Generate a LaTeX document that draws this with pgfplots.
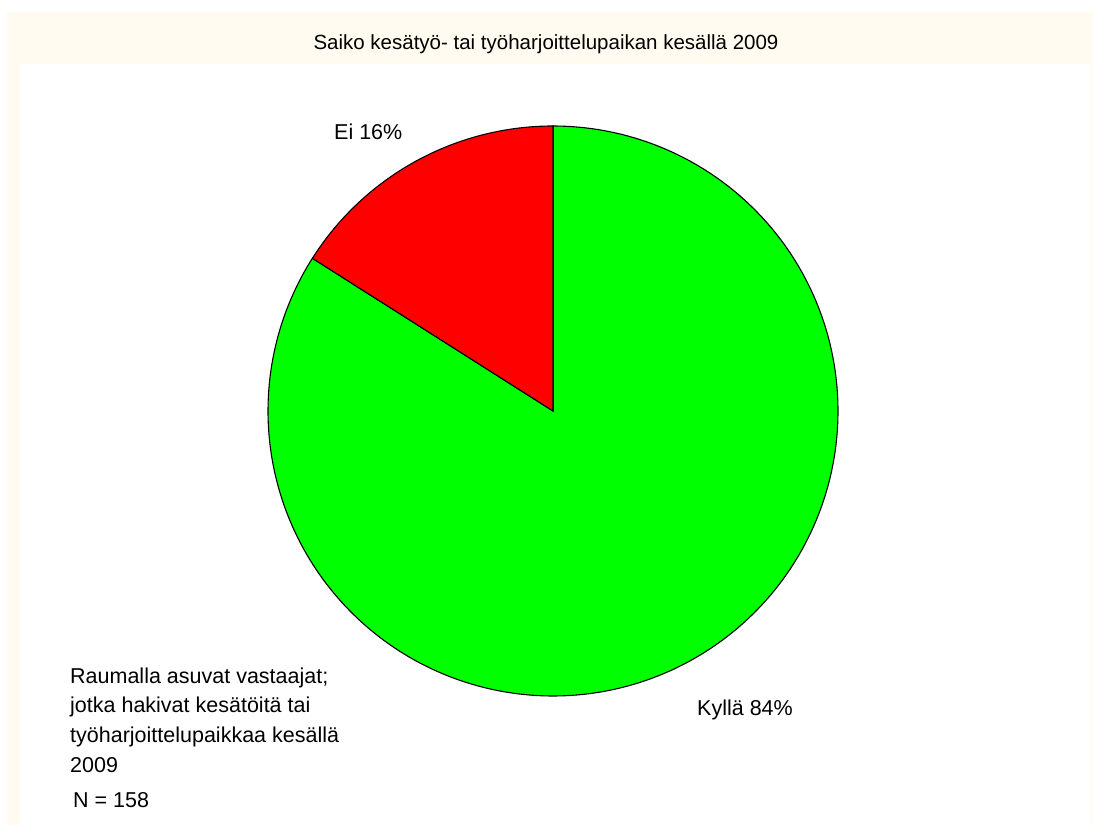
\documentclass[border=0pt]{standalone}
\usepackage{pgfplots}
\pgfplotsset{compat=1.18}
\usepackage{fontspec}
\setmainfont{Liberation Sans}
\definecolor{cream}{RGB}{255,251,240}
\definecolor{pgreen}{RGB}{0,255,0}
\definecolor{pred}{RGB}{255,0,0}
% data (percent)
\def\valEi{16}
\def\valKylla{84}
\begin{document}
\begin{tikzpicture}[x=1pt,y=1pt]
\fill[white] (0,0) rectangle (1093,825);
\fill[cream] (7,0) rectangle (1093,813);
\fill[white] (20,0) rectangle (1091,761);
\pgfmathsetmacro\aStart{90}
\pgfmathsetmacro\aMid{90+3.6*\valEi}
\pgfmathsetmacro\aEnd{\aMid+3.6*\valKylla}
\begin{axis}[x=1pt,y=1pt,xmin=0,xmax=1093,ymin=0,ymax=825,hide axis,clip=false,scale only axis,at={(0,0)},anchor=south west]
\addplot[fill=pgreen,draw=black,line width=1.1pt,domain=\aMid:\aEnd,samples=200,smooth]
  ({553+285*cos(x)},{414+285*sin(x)}) -- (553,414) -- cycle;
\addplot[fill=pred,draw=black,line width=1.1pt,domain=\aStart:\aMid,samples=60,smooth]
  ({553+285*cos(x)},{414+285*sin(x)}) -- (553,414) -- cycle;
\end{axis}
\tikzset{lbl/.style={font=\fontsize{21.5}{25}\selectfont,anchor=base west,inner sep=0pt}}
\node[font=\fontsize{20.5}{24}\selectfont,anchor=base,inner sep=0pt] at (546,775) {Saiko kesätyö- tai työharjoittelupaikan kesällä 2009};
\node[lbl] at (334,685) {Ei 16\%};
\node[lbl] at (697,109) {Kyllä 84\%};
\node[lbl] at (70,141) {Raumalla asuvat vastaajat;};
\node[lbl] at (70,112) {jotka hakivat kesätöitä tai};
\node[lbl] at (70,82) {työharjoittelupaikkaa kesällä};
\node[lbl] at (70,52) {2009};
\node[lbl] at (73,17) {N = 158};
\end{tikzpicture}
\end{document}
